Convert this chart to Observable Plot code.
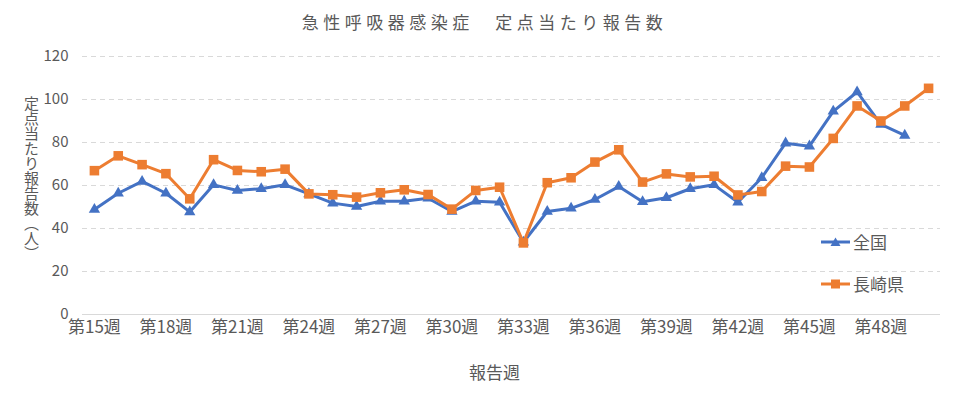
<!DOCTYPE html>
<html>
<head>
<meta charset="utf-8">
<script src="https://cdn.jsdelivr.net/npm/d3@7"></script>
<script src="https://cdn.jsdelivr.net/npm/@observablehq/plot@0.6"></script>
<style>
  html, body { margin: 0; padding: 0; background: #fff; }
  #wrap { position: relative; width: 963px; height: 399px; font-family: "Noto Sans CJK JP", sans-serif; color: #595959; overflow: hidden; }
  #wrap svg.plot { position: absolute; left: 0; top: 0; }
  .title { position: absolute; left: 0; top: 9px; width: 963px; text-align: center; font-size: 17px; letter-spacing: 4.5px; padding-left: 6px; box-sizing: border-box; }
  .ylabel { position: absolute; left: 23px; top: 96px; writing-mode: vertical-rl; text-orientation: upright; font-size: 15px; line-height: 17px; }
  .xlabel { position: absolute; left: 469px; top: 359px; font-size: 17px; }
  .legend { position: absolute; left: 821px; font-size: 17px; display: flex; align-items: center; }
  .legend svg { margin-right: 3px; }
</style>
</head>
<body>
<div id="wrap">
  <div class="title">急性呼吸器感染症　定点当たり報告数</div>
  <div class="ylabel">定点当たり報告数（人）</div>
  <div class="xlabel">報告週</div>
  <div class="legend" style="top:229px"><svg width="29" height="12"><line x1="0" y1="6" x2="29" y2="6" stroke="#4472C4" stroke-width="3"/><path d="M14.5,1.5 L19.5,10 L9.5,10 Z" fill="#4472C4"/></svg><span>全国</span></div>
  <div class="legend" style="top:271px"><svg width="29" height="12"><line x1="0" y1="6" x2="29" y2="6" stroke="#ED7D31" stroke-width="3"/><rect x="10" y="1.5" width="9" height="9" fill="#ED7D31"/></svg><span>長崎県</span></div>
</div>
<script>
const weeks = [15,16,17,18,19,20,21,22,23,24,25,26,27,28,29,30,31,32,33,34,35,36,37,38,39,40,41,42,43,44,45,46,47,48,49,50];
const tickWeeks = [15,18,21,24,27,30,33,36,39,42,45,48];
const yTicks = [0,20,40,60,80,100,120];
const nationalValues = [48.8,56.4,61.9,56.4,47.7,60.3,57.7,58.5,60.3,56.1,51.8,50.2,52.7,52.7,54.1,47.9,52.7,52.2,33.6,47.9,49.4,53.5,59.5,52.4,54.3,58.5,60.3,52.2,63.6,79.7,78.3,94.5,103.5,88.4,83.3];
const nagasakiValues = [66.9,73.8,69.7,65.5,53.8,72.0,67.0,66.4,67.6,56.1,55.7,54.6,56.6,58.0,55.8,49.0,57.7,59.2,33.3,61.3,63.6,70.9,76.6,61.6,65.4,64.0,64.3,55.6,57.2,69.0,68.6,81.9,97.0,90.0,97.0,105.2];
const seriesNames = ["全国", "長崎県"];
const colors = ["#4472C4", "#ED7D31"];

const national = nationalValues.map((v, i) => ({week: weeks[i], value: v}));
const nagasaki = nagasakiValues.map((v, i) => ({week: weeks[i], value: v}));

const chart = Plot.plot({
  width: 963,
  height: 399,
  marginLeft: 82,
  marginRight: 23,
  marginTop: 56,
  marginBottom: 85,
  style: { fontFamily: "'Noto Sans CJK JP', sans-serif", color: "#595959", background: "transparent" },
  x: { type: "point", domain: weeks, padding: 0.5, round: false },
  y: { domain: [0, 120] },
  marks: [
    Plot.gridY(yTicks.filter(d => d > 0), { stroke: "#d9d9d9", strokeOpacity: 1, strokeDasharray: "5,4", strokeWidth: 1 }),
    Plot.ruleY([0], { stroke: "#d9d9d9", strokeWidth: 1 }),
    Plot.axisY(yTicks, { tickSize: 0, tickPadding: 14, fontSize: 15, fill: "#595959", label: null }),
    Plot.axisX(tickWeeks, { tickSize: 0, tickPadding: 6, fontSize: 17, fill: "#595959", label: null, tickFormat: d => `第${d}週` }),
    Plot.line(national, { x: "week", y: "value", stroke: colors[0], strokeWidth: 3 }),
    Plot.dot(national, { x: "week", y: "value", symbol: "triangle", fill: colors[0], r: 4.2 }),
    Plot.line(nagasaki, { x: "week", y: "value", stroke: colors[1], strokeWidth: 3 }),
    Plot.dot(nagasaki, { x: "week", y: "value", symbol: "square", fill: colors[1], r: 5.4 })
  ]
});
chart.classList.add("plot");
document.getElementById("wrap").appendChild(chart);
</script>
</body>
</html>
